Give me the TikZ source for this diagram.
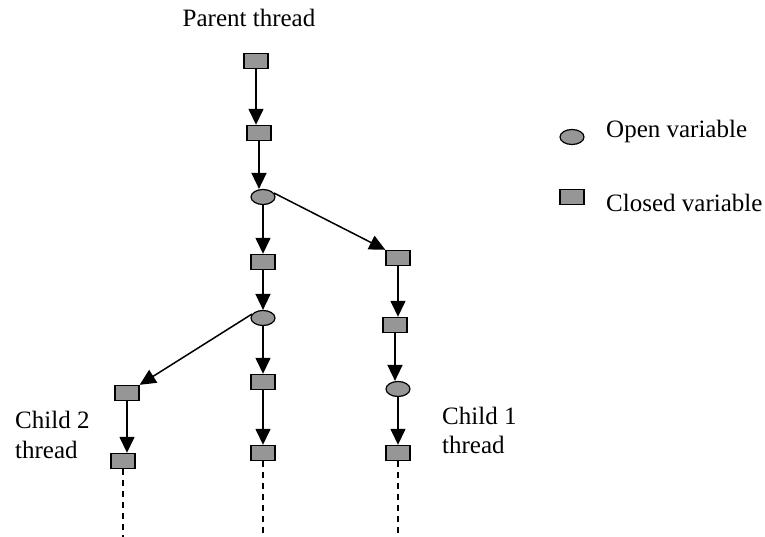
\documentclass[tikz,border=0pt]{standalone}
\usepackage{fontspec}
\setmainfont{Liberation Serif}
\usetikzlibrary{arrows.meta,shapes.geometric}
\definecolor{varfill}{RGB}{150,150,150}
\begin{document}
\begin{tikzpicture}[x=1pt,y=-1pt,
  closedvar/.style={draw=black,line width=1.4pt,fill=varfill,minimum width=24pt,minimum height=15pt,inner sep=0pt},
  openvar/.style={ellipse,draw=black,line width=1.2pt,fill=varfill,minimum width=24pt,minimum height=15pt,inner sep=0pt},
  flow/.style={line width=1.5pt,-{Triangle[length=16pt,width=15pt]}},
  tail/.style={line width=1.4pt,dash pattern=on 6pt off 5pt},
  lbl/.style={font=\fontsize{25}{30}\selectfont,inner sep=0pt,align=left}]
\useasboundingbox (0,0) rectangle (765,537);

% parent thread
\node[lbl,anchor=base] (ptitle) at (249,27) {Parent thread};
\node[closedvar] (p1) at (256,61) {};
\node[closedvar] (p2) at (259,133) {};
\node[openvar]   (p3) at (263,197) {};
\node[closedvar] (p4) at (263,262) {};
\node[openvar]   (p5) at (263,318) {};
\node[closedvar] (p6) at (263,382) {};
\node[closedvar] (p7) at (263,453) {};

% child 1 thread
\node[closedvar] (c1) at (398,258) {};
\node[closedvar] (c2) at (395,325) {};
\node[openvar]   (c3) at (398,389) {};
\node[closedvar] (c4) at (398,453) {};

% child 2 thread
\node[closedvar] (d1) at (127,393) {};
\node[closedvar] (d2) at (123,461) {};

% thread labels
\node[lbl,anchor=base west] (ch2a) at (15,428) {Child 2};
\node[lbl,anchor=base west] (ch2b) at (15,458) {thread};
\node[lbl,anchor=base west] (ch1a) at (442,424) {Child 1};
\node[lbl,anchor=base west] (ch1b) at (442,453) {thread};

% legend
\node[openvar]   (lopen) at (572,137) {};
\node[closedvar] (lclosed) at (572,197) {};
\node[lbl,anchor=base west] (topen) at (606,138) {Open variable};
\node[lbl,anchor=base west] (tclosed) at (606,212) {Closed variable};

% connectors
\draw[flow] (p1.south) -- (p1.south |- p2.north);
\draw[flow] (p2.south) -- (p2.south |- p3.north);
\draw[flow] (p3.south) -- (p4.north);
\draw[flow] (p4.south) -- (p5.north);
\draw[flow] (p5.south) -- (p6.north);
\draw[flow] (p6.south) -- (p7.north);
\draw[flow] (p3.20) -- (c1.north west);
\draw[flow] (c1.south) -- (c1.south |- c2.north);
\draw[flow] (c2.south) -- (c2.south |- c3.north);
\draw[flow] (c3.south) -- (c4.north);
\draw[flow] (p5.160) -- (d1.north east);
\draw[flow] (d1.south) -- (d1.south |- d2.north);

% open-ended continuation of each thread
\coordinate (bottom) at (0,537);
\draw[tail] (d2.south) -- (d2.south |- bottom);
\draw[tail] (p7.south) -- (p7.south |- bottom);
\draw[tail] (c4.south) -- (c4.south |- bottom);
\end{tikzpicture}
\end{document}
